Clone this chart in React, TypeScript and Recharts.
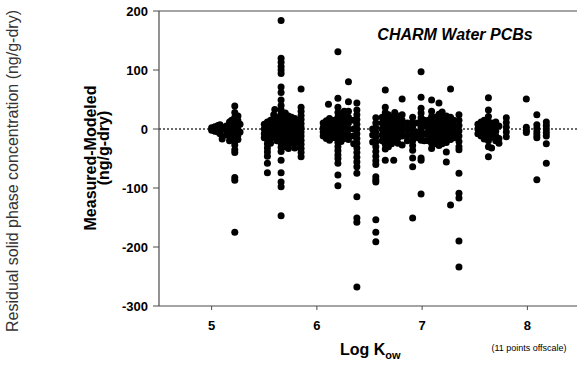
import { ReferenceLine, Scatter, ScatterChart, XAxis, YAxis } from "recharts";

const AXIS = "#4a4a4a";
const ZERO = "#6a6a6a";
const INK = "#000000";

const k50 = [
  [5.0, 2], [5.0, -2], [5.03, 4], [5.03, 0], [5.03, -4], [5.06, 6], [5.06, 1], [5.06, -5],
  [5.08, 7], [5.08, 2], [5.08, -3], [5.08, -8], [5.1, 3], [5.1, -17],
];
const k52 = [
  [5.14, 5], [5.14, -3], [5.14, -10], [5.17, 12], [5.17, 4], [5.17, -4], [5.17, -12], [5.17, -20],
  [5.19, 15], [5.19, 8], [5.19, 0], [5.19, -8], [5.19, -16], [5.22, 39], [5.22, 28], [5.22, 20],
  [5.22, 12], [5.22, 4], [5.22, -4], [5.22, -12], [5.22, -20], [5.22, -27], [5.22, -35], [5.22, -40],
  [5.22, -82], [5.22, -87], [5.22, -175], [5.25, 22], [5.25, 14], [5.25, 6], [5.25, -2], [5.25, -10],
  [5.25, -18], [5.27, 8], [5.27, -5],
];
const k55 = [
  [5.5, 8], [5.5, 0], [5.5, -8], [5.5, -15], [5.53, 12], [5.53, 5], [5.53, -3], [5.53, -10],
  [5.53, -18], [5.53, -25], [5.53, -32], [5.53, -39], [5.53, -46], [5.53, -58], [5.53, -74],
  [5.56, 15], [5.56, 8], [5.56, 0], [5.56, -8], [5.56, -16], [5.56, -24], [5.59, 24], [5.59, 17],
  [5.59, 10], [5.59, 2], [5.59, -6], [5.59, -14], [5.6, 33], [5.62, 20], [5.62, 12], [5.62, 4],
  [5.62, -4], [5.62, -12], [5.62, -20],
];
const k566 = [
  [5.66, 184], [5.66, 120], [5.66, 113], [5.66, 106], [5.66, 100], [5.66, 94], [5.66, 71],
  [5.66, 62], [5.66, 49], [5.66, 40], [5.66, 32], [5.66, 25], [5.66, 18], [5.66, 11], [5.66, 4],
  [5.66, -3], [5.66, -10], [5.66, -17], [5.66, -24], [5.66, -31], [5.66, -38], [5.66, -53],
  [5.66, -74], [5.66, -90], [5.66, -98], [5.66, -147],
];
const k57 = [
  [5.7, 27], [5.7, 20], [5.7, 13], [5.7, 6], [5.7, -1], [5.7, -8], [5.7, -15], [5.7, -22], [5.7, -30],
  [5.73, 22], [5.73, 15], [5.73, 8], [5.73, 1], [5.73, -6], [5.73, -13], [5.73, -20], [5.73, -27],
  [5.73, -33], [5.76, 20], [5.76, 12], [5.76, 5], [5.76, -2], [5.76, -9], [5.76, -16], [5.76, -23],
  [5.79, 18], [5.79, 10], [5.79, 3], [5.79, -4], [5.79, -11], [5.79, -18], [5.79, -25], [5.79, -32],
];
const k585 = [
  [5.85, 68], [5.85, 37], [5.85, 30], [5.85, 23], [5.85, 16], [5.85, 9], [5.85, 2], [5.85, -5],
  [5.85, -12], [5.85, -19], [5.85, -26], [5.85, -33], [5.85, -40], [5.85, -47], [5.83, 10],
  [5.83, -5], [5.83, -20],
];
const k61 = [
  [6.06, 10], [6.06, 2], [6.06, -5], [6.06, -12], [6.09, 14], [6.09, 6], [6.09, -1], [6.09, -8],
  [6.09, -16], [6.11, 42], [6.12, 18], [6.12, 10], [6.12, 3], [6.12, -4], [6.12, -11], [6.12, -19],
  [6.14, 8], [6.14, -6],
];
const k62 = [
  [6.2, 131], [6.2, 52], [6.2, 37], [6.2, 28], [6.2, 20], [6.2, 12], [6.2, 5], [6.2, -2], [6.2, -9],
  [6.2, -16], [6.2, -23], [6.2, -30], [6.2, -37], [6.2, -44], [6.2, -50], [6.2, -58], [6.2, -78],
  [6.2, -96], [6.17, 15], [6.17, 5], [6.17, -5], [6.17, -15], [6.23, 25], [6.23, 15], [6.23, 6],
  [6.23, -3], [6.23, -12], [6.23, -21], [6.26, 30], [6.26, 20], [6.26, 11], [6.26, 2], [6.26, -7],
  [6.26, -16], [6.3, 80], [6.3, 46], [6.3, 30], [6.3, 20], [6.3, 10], [6.3, 0], [6.3, -10], [6.3, -18],
];
const k64 = [
  [6.38, 44], [6.38, 32], [6.38, 24], [6.38, 16], [6.38, 8], [6.38, 0], [6.38, -8], [6.38, -16],
  [6.38, -24], [6.38, -32], [6.38, -40], [6.38, -48], [6.38, -56], [6.38, -64], [6.38, -75],
  [6.38, -115], [6.38, -151], [6.38, -158], [6.38, -268], [6.35, 15], [6.35, 0], [6.35, -12],
  [6.35, -25],
];
const k66 = [
  [6.53, 0], [6.53, -10], [6.53, -22], [6.56, 19], [6.56, 10], [6.56, 2], [6.56, -6], [6.56, -14],
  [6.56, -22], [6.56, -30], [6.56, -38], [6.56, -46], [6.56, -54], [6.56, -60], [6.56, -81],
  [6.56, -86], [6.56, -90], [6.56, -154], [6.56, -175], [6.56, -191],
];
const k67 = [
  [6.62, 20], [6.62, 10], [6.62, 0], [6.62, -10], [6.62, -20], [6.65, 66], [6.65, 37], [6.65, 28],
  [6.65, 19], [6.65, 10], [6.65, 1], [6.65, -8], [6.65, -17], [6.65, -26], [6.65, -34], [6.65, -53],
  [6.68, 24], [6.68, 15], [6.68, 6], [6.68, -3], [6.68, -12], [6.68, -21], [6.68, -30], [6.71, 20],
  [6.71, 11], [6.71, 2], [6.71, -7], [6.71, -16], [6.71, -25], [6.73, -53], [6.74, 28], [6.74, 18],
  [6.74, 9], [6.74, 0], [6.74, -9], [6.74, -18], [6.77, 22], [6.77, 12], [6.77, 3], [6.77, -6],
  [6.77, -15], [6.77, -24], [6.81, 51], [6.81, 24], [6.81, 15], [6.81, 6], [6.81, -3], [6.81, -12],
  [6.81, -27],
];
const k69 = [
  [6.86, 10], [6.86, 0], [6.86, -10], [6.86, -20], [6.91, 20], [6.91, 12], [6.91, 4], [6.91, -4],
  [6.91, -12], [6.91, -20], [6.91, -28], [6.91, -36], [6.91, -49], [6.91, -64], [6.91, -151],
];
const k70 = [
  [6.99, 97], [6.99, 54], [6.99, 35], [6.99, 27], [6.99, 19], [6.99, 11], [6.99, 3], [6.99, -5],
  [6.99, -13], [6.99, -19], [6.99, -49], [6.99, -53], [6.99, -110], [6.96, 10], [6.96, -5],
  [6.96, -15], [7.02, 15], [7.02, 5], [7.02, -8], [7.02, -20],
];
const k72 = [
  [7.06, 15], [7.06, 6], [7.06, -3], [7.06, -12], [7.06, -20], [7.09, 49], [7.09, 30], [7.09, 21],
  [7.09, 12], [7.09, 3], [7.09, -6], [7.09, -15], [7.09, -24], [7.09, -33], [7.12, 20], [7.12, 11],
  [7.12, 2], [7.12, -7], [7.12, -16], [7.12, -25], [7.16, 44], [7.16, 25], [7.16, 16], [7.16, 7],
  [7.16, -2], [7.16, -11], [7.16, -20], [7.16, -28], [7.19, 29], [7.19, 20], [7.19, 11], [7.19, 2],
  [7.19, -7], [7.19, -16], [7.19, -25], [7.23, 22], [7.23, 13], [7.23, 4], [7.23, -5], [7.23, -14],
  [7.23, -23], [7.23, -39], [7.23, -56], [7.27, 68], [7.27, 20], [7.27, 10], [7.27, 0], [7.27, -10],
  [7.27, -18], [7.27, -129], [7.3, 15], [7.3, 5], [7.3, -5], [7.3, -15], [7.35, 24], [7.35, 15],
  [7.35, 6], [7.35, -3], [7.35, -12], [7.35, -21], [7.35, -30], [7.35, -35], [7.35, -75],
  [7.35, -109], [7.35, -117], [7.35, -190], [7.35, -234],
];
const k76 = [
  [7.53, 8], [7.53, 0], [7.53, -8], [7.56, 12], [7.56, 4], [7.56, -4], [7.56, -12], [7.59, 15],
  [7.59, 7], [7.59, -1], [7.59, -9], [7.59, -17], [7.63, 53], [7.63, 32], [7.63, 21], [7.63, 12],
  [7.63, 4], [7.63, -4], [7.63, -12], [7.63, -20], [7.63, -30], [7.63, -47], [7.66, 10], [7.66, 2],
  [7.66, -6], [7.66, -14], [7.66, -32], [7.7, 12], [7.7, 4], [7.7, -4], [7.7, -12], [7.7, -20],
  [7.73, 5], [7.73, -16], [7.73, -24], [7.8, 19], [7.8, 11], [7.8, 3], [7.8, -5], [7.8, -13],
];
const k80 = [
  [7.99, 51], [7.99, 3], [7.99, -2], [7.99, -6], [8.09, 24], [8.09, 7], [8.09, 1], [8.09, -5],
  [8.09, -10], [8.09, -15], [8.09, -86], [8.18, 12], [8.18, 6], [8.18, 0], [8.18, -6], [8.18, -12],
  [8.18, -25], [8.18, -58],
];

const xTicks = [5, 6, 7, 8];
const yTicks = [-300, -200, -100, 0, 100, 200];

const points = [k50, k52, k55, k566, k57, k585, k61, k62, k64, k66, k67, k69, k70, k72, k76, k80]
  .flat()
  .map(([x, y]) => ({ x, y }));

const Dot = (p: any) => <circle cx={p.cx} cy={p.cy} r={3.5} fill={INK} />;

const tickFont = { fill: INK, fontSize: 13, fontWeight: 700, fontFamily: "Liberation Sans, Arial, sans-serif" };

export default function App() {
  return (
    <div style={{ position: "absolute", left: 0, top: 0, width: 577, height: 366, overflow: "hidden", background: "#fff" }}>
      <ScatterChart width={600} height={366} margin={{ top: 11, right: 20, bottom: 30, left: 0 }}>
        <XAxis
          type="number"
          dataKey="x"
          domain={[4.5, 8.5]}
          ticks={xTicks}
          height={30}
          tickSize={4}
          tickMargin={11}
          tick={tickFont}
          axisLine={{ stroke: AXIS, strokeWidth: 1.2 }}
          tickLine={{ stroke: AXIS }}
        />
        <YAxis
          type="number"
          dataKey="y"
          domain={[-300, 200]}
          ticks={yTicks}
          width={159}
          tickSize={6}
          tickMargin={5}
          tick={tickFont}
          axisLine={{ stroke: AXIS, strokeWidth: 1.2 }}
          tickLine={{ stroke: AXIS }}
        />
        <ReferenceLine y={200} stroke={AXIS} strokeWidth={1.2} />
        <ReferenceLine y={0} stroke={ZERO} strokeWidth={2} strokeDasharray="2 2" />
        <Scatter data={points} shape={Dot} isAnimationActive={false} />
      </ScatterChart>
      <svg width={577} height={366} style={{ position: "absolute", left: 0, top: 0, pointerEvents: "none" }}>
        <g fontFamily="Liberation Sans, Arial, sans-serif">
          <text x={18} y={171} transform="rotate(-90 18 171)" textAnchor="middle" fontSize={16} fill="#333">
            Residual solid phase concentration (ng/g-dry)
          </text>
          <text x={96} y={158} transform="rotate(-90 96 158)" textAnchor="middle" fontSize={16} fontWeight={700} fill={INK}>
            Measured-Modeled
          </text>
          <text x={109} y={148} transform="rotate(-90 109 148)" textAnchor="middle" fontSize={16} fontWeight={700} fill={INK}>
            (ng/g-dry)
          </text>
          <text x={455} y={40} textAnchor="middle" fontSize={16} fontWeight={700} fontStyle="italic" fill={INK}>
            CHARM Water PCBs
          </text>
          <text x={340} y={355} fontSize={16} fontWeight={700} fill={INK}>
            Log K
            <tspan fontSize={11} dy={4}>ow</tspan>
          </text>
          <text x={529} y={351} textAnchor="middle" fontSize={9} fill={INK}>
            (11 points offscale)
          </text>
        </g>
      </svg>
    </div>
  );
}
